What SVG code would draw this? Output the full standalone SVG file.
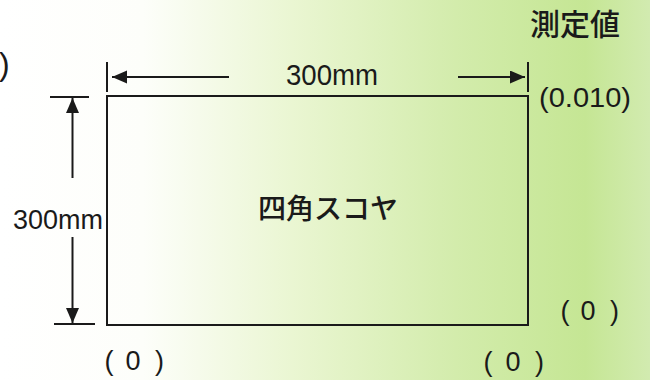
<svg xmlns="http://www.w3.org/2000/svg" width="650" height="380" viewBox="0 0 650 380">
  <defs>
    <linearGradient id="bg" x1="0" y1="0" x2="1" y2="0">
      <stop offset="0" stop-color="#ffffff"/>
      <stop offset="0.22" stop-color="#fdfefa"/>
      <stop offset="0.45" stop-color="#eaf6d2"/>
      <stop offset="0.7" stop-color="#d3ecac"/>
      <stop offset="0.9" stop-color="#c5e694"/>
      <stop offset="1" stop-color="#d2ebb0"/>
    </linearGradient>
    <marker id="ah" markerUnits="userSpaceOnUse" markerWidth="16" markerHeight="14" refX="15" refY="6.5" orient="auto">
      <path d="M0,0 L15,6.5 L0,13 Z" fill="#1a1a1a"/>
    </marker>
    <style>
      .ln { stroke: #1a1a1a; stroke-width: 2; fill: none; }
      .lat { font-family: "Liberation Sans", Arial, sans-serif; fill: #1a1a1a; }
      .cjk { font-family: "Noto Sans CJK JP", "Noto Sans CJK SC", sans-serif; fill: #1a1a1a; font-weight: 500; }
    </style>
  </defs>
  <rect x="0" y="0" width="650" height="380" fill="url(#bg)"/>

  <g id="square">
    <rect class="ln" x="107" y="96" width="421" height="229"/>
    <text class="cjk" x="258" y="219" font-size="28">四角スコヤ</text>
  </g>

  <g id="connectors">
    <line class="ln" x1="107" y1="62" x2="107" y2="92"/>
    <line class="ln" x1="528" y1="62" x2="528" y2="92"/>
    <line class="ln" x1="229" y1="77" x2="112" y2="77" marker-end="url(#ah)"/>
    <line class="ln" x1="458" y1="77" x2="525" y2="77" marker-end="url(#ah)"/>
    <line class="ln" x1="50" y1="97" x2="89" y2="97"/>
    <line class="ln" x1="54" y1="324" x2="95" y2="324"/>
    <line class="ln" x1="72.5" y1="178" x2="72.5" y2="98" marker-end="url(#ah)"/>
    <line class="ln" x1="72.5" y1="237" x2="72.5" y2="323" marker-end="url(#ah)"/>
  </g>

  <g id="dim-top">
    <text class="lat" x="286" y="85" font-size="30" textLength="92" lengthAdjust="spacingAndGlyphs">300mm</text>
  </g>
  <g id="dim-left">
    <text class="lat" x="13" y="229" font-size="27.5" textLength="90" lengthAdjust="spacingAndGlyphs">300mm</text>
  </g>

  <g id="label-title">
    <text class="cjk" x="530" y="35" font-size="30">測定値</text>
  </g>
  <g id="label-tr">
    <text class="lat" x="539" y="107" font-size="28" textLength="92" lengthAdjust="spacingAndGlyphs">(0.010)</text>
  </g>
  <g id="label-r">
    <text class="lat" y="320" font-size="27"><tspan x="560.5">(</tspan><tspan x="580.5">0</tspan><tspan x="610">)</tspan></text>
  </g>
  <g id="label-bl">
    <text class="lat" y="370" font-size="27"><tspan x="104.5">(</tspan><tspan x="125.5">0</tspan><tspan x="155">)</tspan></text>
  </g>
  <g id="label-br">
    <text class="lat" y="371" font-size="27"><tspan x="483.5">(</tspan><tspan x="505.5">0</tspan><tspan x="535">)</tspan></text>
  </g>
  <g id="label-cut">
    <text class="lat" x="-1" y="75" font-size="32">)</text>
  </g>
</svg>
